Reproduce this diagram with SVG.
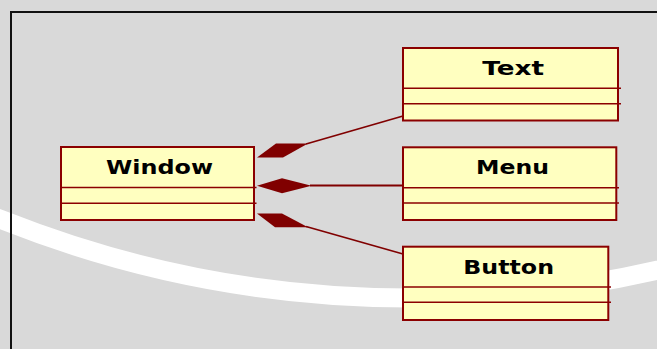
<svg xmlns="http://www.w3.org/2000/svg" width="657" height="349" viewBox="0 0 657 349">
  <style>
    .box { fill: #ffffc0; stroke: #8b0000; stroke-width: 2; }
    .div { stroke: #8b0000; stroke-width: 1.6; }
    .name { font-family: "DejaVu Sans", Verdana, sans-serif; font-weight: bold; font-size: 19.5px; fill: #000; }
    .link { stroke: #800000; stroke-width: 1.8; fill: none; }
    .diamond { fill: #800000; stroke: none; }
  </style>

  <!-- background with light arc band -->
  <rect x="0" y="0" width="657" height="349" fill="#d9d9d9"/>
  <circle cx="410" cy="-807" r="1105" fill="none" stroke="#ffffff" stroke-width="19"/>

  <!-- frame -->
  <path d="M11 349 V12 H657" fill="none" stroke="#111" stroke-width="2"/>

  <g id="connectors">
    <line class="link" x1="403" y1="116" x2="306" y2="144"/>
    <polygon class="diamond" points="257,157.5 283,157.5 308,143.5 276,143.5"/>
    <line class="link" x1="403" y1="185.5" x2="310" y2="185.5"/>
    <polygon class="diamond" points="257,185.7 282,178.3 311.5,185.7 282,193.3"/>
    <line class="link" x1="403" y1="254" x2="306" y2="226.5"/>
    <polygon class="diamond" points="257,213.5 282,213.5 308,227.3 275,227.3"/>
  </g>

  <g id="window">
    <rect class="box" x="61" y="147" width="193" height="73"/>
    <line class="div" x1="61" y1="187.5" x2="256.5" y2="187.5"/>
    <line class="div" x1="61" y1="203.3" x2="256.5" y2="203.3"/>
    <text class="name" x="106" y="174.3" textLength="107" lengthAdjust="spacingAndGlyphs">Window</text>
  </g>

  <g id="text">
    <rect class="box" x="403" y="48" width="215" height="72.5"/>
    <line class="div" x1="403" y1="88.3" x2="621" y2="88.3"/>
    <line class="div" x1="403" y1="103.7" x2="621" y2="103.7"/>
    <text class="name" x="482.3" y="75" textLength="61.7" lengthAdjust="spacingAndGlyphs">Text</text>
  </g>

  <g id="menu">
    <rect class="box" x="403" y="147.3" width="213.3" height="72.7"/>
    <line class="div" x1="403" y1="187.7" x2="619" y2="187.7"/>
    <line class="div" x1="403" y1="203" x2="619" y2="203"/>
    <text class="name" x="476" y="174.3" textLength="73" lengthAdjust="spacingAndGlyphs">Menu</text>
  </g>

  <g id="button">
    <rect class="box" x="403" y="246.7" width="205.3" height="73.3"/>
    <line class="div" x1="403" y1="287" x2="611" y2="287"/>
    <line class="div" x1="403" y1="302.3" x2="611" y2="302.3"/>
    <text class="name" x="463.3" y="274.3" textLength="90.7" lengthAdjust="spacingAndGlyphs">Button</text>
  </g>
</svg>
